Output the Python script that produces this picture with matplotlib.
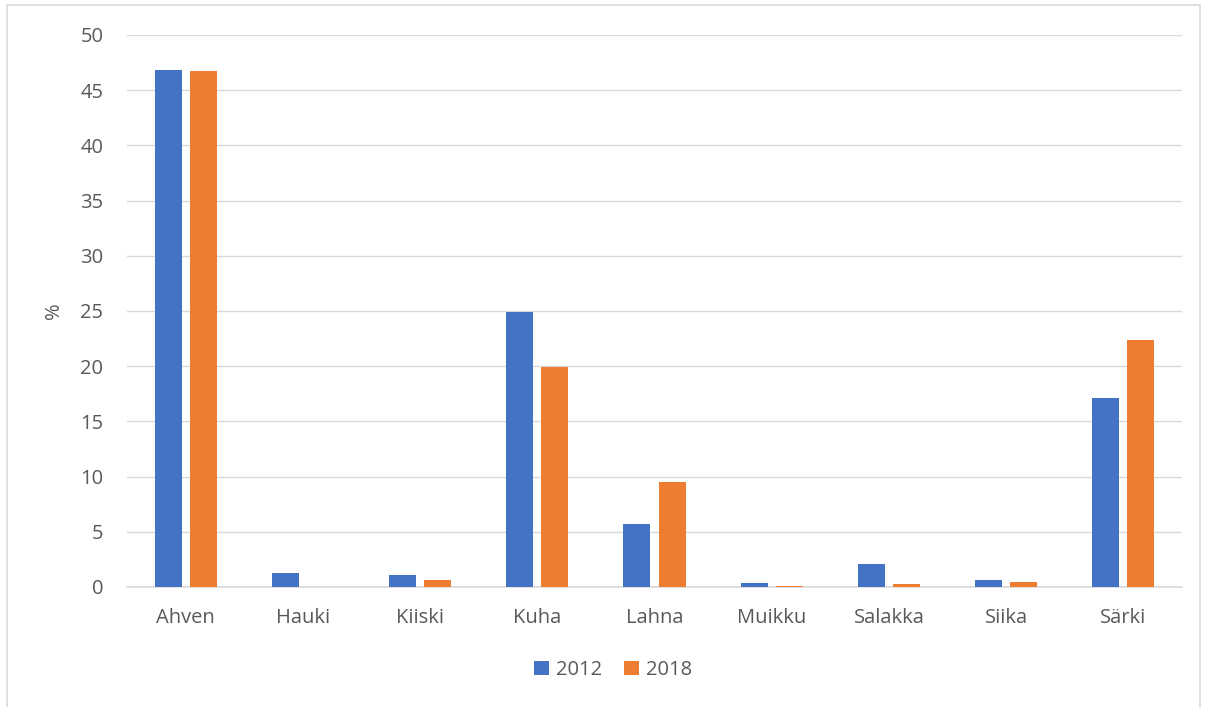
import matplotlib.pyplot as plt
import numpy as np
from matplotlib.patches import Rectangle

lajit = ['Ahven', 'Hauki', 'Kiiski', 'Kuha', 'Lahna', 'Muikku', 'Salakka', 'Siika', 'Särki']
osuus_2012 = [46.8, 1.25, 1.1, 24.9, 5.7, 0.35, 2.05, 0.6, 17.1]
osuus_2018 = [46.75, 0.0, 0.6, 19.95, 9.5, 0.1, 0.25, 0.45, 22.4]
vuodet = ['2012', '2018']

plt.rcParams['font.family'] = ['Open Sans', 'DejaVu Sans']
tekstivari = '#595959'
koko = 14.5

fig = plt.figure(figsize=(12.09, 7.07), dpi=100)
ax = fig.add_axes([127 / 1209, 1 - 587 / 707, (1182 - 127) / 1209, (587 - 35) / 707])

x = np.arange(len(lajit))
leveys = 0.23
ax.bar(x - 0.15, osuus_2012, leveys, color='#4472C4', label=vuodet[0], zorder=3)
ax.bar(x + 0.15, osuus_2018, leveys, color='#ED7D31', label=vuodet[1], zorder=3)

ax.set_xlim(-0.5, len(lajit) - 0.5)
ax.set_ylim(0, 50)
ax.set_yticks(range(0, 51, 5))
ax.set_xticks(x)
ax.set_xticklabels(lajit)
ax.tick_params(axis='both', length=0, labelsize=koko, colors=tekstivari)
ax.tick_params(axis='x', pad=15)
ax.tick_params(axis='y', pad=17)
ax.grid(axis='y', color='#D9D9D9', linewidth=1, zorder=0)
for s in ['top', 'right', 'left']:
    ax.spines[s].set_visible(False)
ax.spines['bottom'].set_color('#D9D9D9')
ax.spines['bottom'].set_linewidth(1.2)

ax.set_ylabel('%', fontsize=koko, color=tekstivari, labelpad=12)

ax.legend(loc='center', bbox_to_anchor=(613 / 1209, 1 - 670 / 707),
          bbox_transform=fig.transFigure, ncol=2, frameon=False,
          fontsize=koko, labelcolor=tekstivari, handlelength=0.75,
          handleheight=0.75, handletextpad=0.35, columnspacing=1.1)

# kehys kaavion ympärillä
fig.patches.append(Rectangle((7 / 1209, -0.01), 1193 / 1209, 1 - 5 / 707 + 0.01,
                             transform=fig.transFigure, fill=False,
                             edgecolor='#D9D9D9', linewidth=1.2))

plt.savefig('out.png', dpi=100)
plt.close()
